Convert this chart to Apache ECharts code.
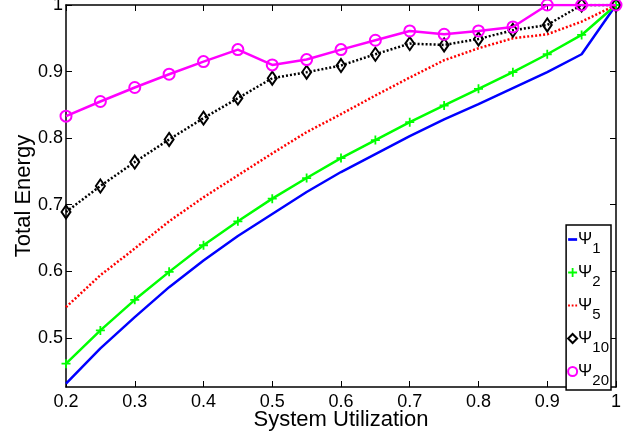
<!DOCTYPE html>
<html><head><meta charset="utf-8">
<script src="https://cdn.jsdelivr.net/npm/echarts@6/dist/echarts.min.js"></script>
<style>html,body{margin:0;padding:0;background:#fff}#c{width:630px;height:438px}</style>
</head><body><div id="c"></div>
<script>
const xValues = [0.2,0.25,0.3,0.35,0.4,0.45,0.5,0.55,0.6,0.65,0.7,0.75,0.8,0.85,0.9,0.95,1.0];
const psi1  = [0.431,0.484,0.531,0.576,0.616,0.653,0.686,0.719,0.749,0.776,0.803,0.828,0.851,0.875,0.899,0.926,1.0];
const psi2  = [0.461,0.511,0.557,0.599,0.639,0.675,0.709,0.740,0.770,0.797,0.824,0.849,0.874,0.899,0.926,0.955,1.0];
const psi5  = [0.546,0.594,0.634,0.675,0.711,0.744,0.777,0.809,0.836,0.864,0.891,0.917,0.935,0.950,0.956,0.975,1.0];
const psi10 = [0.689,0.728,0.764,0.798,0.830,0.860,0.890,0.899,0.909,0.926,0.942,0.940,0.949,0.962,0.970,1.0,1.0];
const psi20 = [0.833,0.855,0.876,0.896,0.915,0.933,0.910,0.918,0.933,0.947,0.961,0.956,0.961,0.967,1.0,1.0,1.0];
const xTicks = [0.2,0.3,0.4,0.5,0.6,0.7,0.8,0.9,1];
const yTicks = [0.5,0.6,0.7,0.8,0.9,1];
const seriesNames = ['Ψ1','Ψ2','Ψ5','Ψ10','Ψ20'];

const pair = arr => xValues.map((x,i)=>[x,arr[i]]);
const font = 'Liberation Sans, Arial, Helvetica, sans-serif';
const plusPath = 'path://M4,0H6V4H10V6H6V10H4V6H0V4H4Z';
const dashPath = 'path://M0,0H10V3H0Z';
const dotPath = 'path://M0,0H2V2.4H0ZM4,0H6V2.4H4ZM8,0H10V2.4H8Z';

const chart = echarts.init(document.getElementById('c'));
const axisCommon = {
  axisLine:{show:true,lineStyle:{color:'#000',width:1.5}},
  splitLine:{show:false},
};
const tick = ticks => ({show:true,inside:true,length:6,lineStyle:{color:'#000',width:1},customValues:ticks});
chart.setOption({
  animation:false,
  textStyle:{fontFamily:font},
  grid:{left:66,right:14,top:5,bottom:51,outerBoundsMode:'none',containLabel:false},
  xAxis:[{
    type:'value',min:0.2,max:1,position:'bottom',
    ...axisCommon,
    axisTick:tick(xTicks),
    axisLabel:{color:'#000',fontSize:18,fontFamily:font,margin:6,customValues:xTicks,formatter:v=>String(+v.toFixed(2))},
    name:'System Utilization',nameLocation:'middle',nameGap:22,nameMoveOverlap:false,
    nameTextStyle:{color:'#000',fontSize:22,fontFamily:font}
  },{
    type:'value',min:0.2,max:1,position:'top',
    ...axisCommon,
    axisTick:tick(xTicks),
    axisLabel:{show:false}
  }],
  yAxis:[{
    type:'value',min:0.426,max:1,position:'left',
    ...axisCommon,
    axisTick:tick(yTicks),
    axisLabel:{color:'#000',fontSize:18,fontFamily:font,margin:3,customValues:yTicks,formatter:v=>String(+v.toFixed(2))},
    name:'Total Energy',nameLocation:'middle',nameGap:31,nameRotate:90,nameMoveOverlap:false,
    nameTextStyle:{color:'#000',fontSize:22,fontFamily:font}
  },{
    type:'value',min:0.426,max:1,position:'right',
    ...axisCommon,
    axisTick:tick(yTicks),
    axisLabel:{show:false}
  }],
  legend:{
    orient:'vertical',right:19,top:225,
    backgroundColor:'#fff',borderColor:'#000',borderWidth:1.5,
    padding:[6,2,2,1],itemGap:8,itemWidth:9,itemHeight:9,
    data:[
      {name:'Ψ1',icon:dashPath},
      {name:'Ψ2',icon:plusPath},
      {name:'Ψ5',icon:dotPath},
      {name:'Ψ10',icon:'diamond'},
      {name:'Ψ20',icon:'circle'}
    ],
    formatter:n=>'Ψ{s|'+n.slice(1)+'}',
    textStyle:{color:'#000',fontSize:17,fontFamily:font,padding:[0,0,0,-4],
      rich:{s:{fontSize:15,fontFamily:font,color:'#000',padding:[18,0,0,0]}}}
  },
  series:[
    {name:'Ψ1',type:'line',data:pair(psi1),showSymbol:false,symbol:'none',
     lineStyle:{color:'#0000ff',width:2.5},itemStyle:{color:'#0000ff'},z:1},
    {name:'Ψ2',type:'line',data:pair(psi2),symbol:plusPath,symbolSize:9,
     lineStyle:{color:'#00ff00',width:2.5},itemStyle:{color:'#00ff00'},z:2},
    {name:'Ψ5',type:'line',data:pair(psi5),symbol:'none',
     lineStyle:{color:'#ff0000',width:2.5,type:[2,2]},itemStyle:{color:'#ff0000'},z:3},
    {name:'Ψ10',type:'line',data:pair(psi10),symbol:'diamond',symbolSize:[9,13],
     lineStyle:{color:'#000',width:2.5,type:[2,2]},
     itemStyle:{color:'rgba(255,255,255,0)',borderColor:'#000',borderWidth:2},z:4},
    {name:'Ψ20',type:'line',data:pair(psi20),symbol:'circle',symbolSize:11,
     lineStyle:{color:'#ff00ff',width:2.5},
     itemStyle:{color:'rgba(255,255,255,0)',borderColor:'#ff00ff',borderWidth:2},z:5}
  ]
});
</script></body></html>
